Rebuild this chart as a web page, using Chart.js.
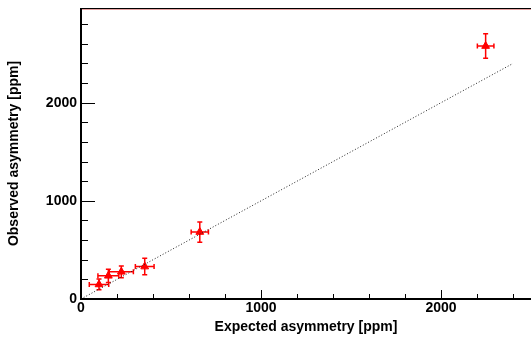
<!DOCTYPE html>
<html>
<head>
<meta charset="utf-8">
<script src="https://cdn.jsdelivr.net/npm/chart.js@4/dist/chart.umd.min.js"></script>
<style>
html,body{margin:0;padding:0;background:#fff;overflow:hidden;}
#wrap{width:531px;height:337px;position:relative;}
</style>
</head>
<body>
<div id="wrap"><canvas id="c" width="531" height="337"></canvas></div>
<script>
// ---- data ----
const expected = [100, 152, 224, 354, 660, 2248];      // x values [ppm]
const observed = [148, 236, 277, 330, 682, 2577];      // y values [ppm]
const expectedErr = [54, 58, 67, 52, 48, 46];          // x errors
const observedErr = [55, 68, 60, 84, 103, 125];        // y errors
const refLineX = [0, 2400];                            // y = x reference line
const refLineY = [0, 2400];
const xMajorTicks = [0, 1000, 2000];
const yMajorTicks = [0, 1000, 2000];
const xMinorStep = 200;
const yMinorStep = 200;
const xMax = 2500;
const yMax = 2965;

const FONT = {family: '"Liberation Sans", Arial, Helvetica, sans-serif', size: 14, weight: 'bold'};

const points = expected.map((x, i) => ({x: x, y: observed[i], xe: expectedErr[i], ye: observedErr[i]}));
const line = refLineX.map((x, i) => ({x: x, y: refLineY[i]}));

const errorBars = {
  id: 'errorBars',
  beforeDatasetsDraw(chart) {
    const {ctx, scales: {x, y}} = chart;
    ctx.save();
    ctx.strokeStyle = '#ff0000';
    ctx.lineWidth = 1.5;
    const cap = 2.5;
    points.forEach(p => {
      const cx = x.getPixelForValue(p.x), cy = y.getPixelForValue(p.y);
      const x0 = x.getPixelForValue(p.x - p.xe), x1 = x.getPixelForValue(p.x + p.xe);
      const y0 = y.getPixelForValue(p.y - p.ye), y1 = y.getPixelForValue(p.y + p.ye);
      ctx.beginPath();
      ctx.moveTo(x0, cy); ctx.lineTo(x1, cy);
      ctx.moveTo(x0, cy - cap); ctx.lineTo(x0, cy + cap);
      ctx.moveTo(x1, cy - cap); ctx.lineTo(x1, cy + cap);
      ctx.moveTo(cx, y0); ctx.lineTo(cx, y1);
      ctx.moveTo(cx - cap, y0); ctx.lineTo(cx + cap, y0);
      ctx.moveTo(cx - cap, y1); ctx.lineTo(cx + cap, y1);
      ctx.stroke();
    });
    ctx.restore();
  }
};

const frameTicks = {
  id: 'frameTicks',
  afterDraw(chart) {
    const {ctx, chartArea: a, scales: {x, y}} = chart;
    ctx.save();
    ctx.strokeStyle = '#000';
    ctx.lineWidth = 1;
    for (let v = 0; v <= xMax; v += xMinorStep) {
      const px = Math.round(x.getPixelForValue(v)) + 0.5;
      const len = xMajorTicks.includes(v) ? 9 : 5;
      ctx.beginPath(); ctx.moveTo(px, a.bottom); ctx.lineTo(px, a.bottom - len); ctx.stroke();
    }
    for (let v = 0; v <= yMax; v += yMinorStep) {
      const py = Math.round(y.getPixelForValue(v)) + 0.5;
      const len = yMajorTicks.includes(v) ? 14 : 7;
      ctx.beginPath(); ctx.moveTo(a.left, py); ctx.lineTo(a.left + len, py); ctx.stroke();
    }
    ctx.beginPath(); ctx.moveTo(a.left, a.top + 0.5); ctx.lineTo(a.right, a.top + 0.5); ctx.stroke();
    ctx.strokeStyle = 'rgba(220,120,120,0.7)';
    ctx.beginPath(); ctx.moveTo(a.left + 1, a.top + 1.5); ctx.lineTo(a.right, a.top + 1.5); ctx.stroke();
    ctx.strokeStyle = '#000';
    ctx.lineWidth = 2;
    ctx.beginPath();
    ctx.moveTo(a.left, a.top); ctx.lineTo(a.left, a.bottom); ctx.lineTo(a.right, a.bottom);
    ctx.stroke();
    ctx.restore();
  }
};

new Chart(document.getElementById('c'), {
  type: 'scatter',
  data: {
    datasets: [
      {
        type: 'line',
        data: line,
        borderColor: '#222',
        borderWidth: 1,
        borderDash: [1, 2],
        pointRadius: 0,
        fill: false
      },
      {
        data: points,
        pointStyle: 'triangle',
        pointRadius: 4.5,
        pointBackgroundColor: '#ff0000',
        pointBorderColor: '#ff0000',
        pointBorderWidth: 1
      }
    ]
  },
  options: {
    responsive: false,
    animation: false,
    layout: {autoPadding: false, padding: {top: 8, right: 0, bottom: 0, left: 0}},
    plugins: {legend: {display: false}, tooltip: {enabled: false}},
    scales: {
      x: {
        type: 'linear', min: 0, max: xMax,
        afterBuildTicks(s) { s.ticks = xMajorTicks.map(v => ({value: v})); },
        afterFit(s) { s.height = 38; s.paddingLeft = 0; s.paddingRight = 0; },
        grid: {display: false, drawTicks: false},
        border: {display: false},
        ticks: {color: '#000', font: FONT, padding: 1, maxRotation: 0, autoSkip: false,
                callback: v => String(v)},
        title: {display: true, text: 'Expected asymmetry [ppm]', color: '#000', font: FONT, padding: {top: 0, bottom: 1}}
      },
      y: {
        type: 'linear', min: 0, max: yMax,
        afterBuildTicks(s) { s.ticks = yMajorTicks.map(v => ({value: v})); },
        afterFit(s) { s.width = 81; s.paddingTop = 0; s.paddingBottom = 0; },
        grid: {display: false, drawTicks: false},
        border: {display: false},
        ticks: {color: '#000', font: FONT, padding: 4, autoSkip: false,
                callback: v => String(v)},
        title: {display: true, text: 'Observed asymmetry [ppm]', color: '#000', font: FONT, padding: {top: 6, bottom: 0}}
      }
    }
  },
  plugins: [errorBars, frameTicks]
});
</script>
</body>
</html>
